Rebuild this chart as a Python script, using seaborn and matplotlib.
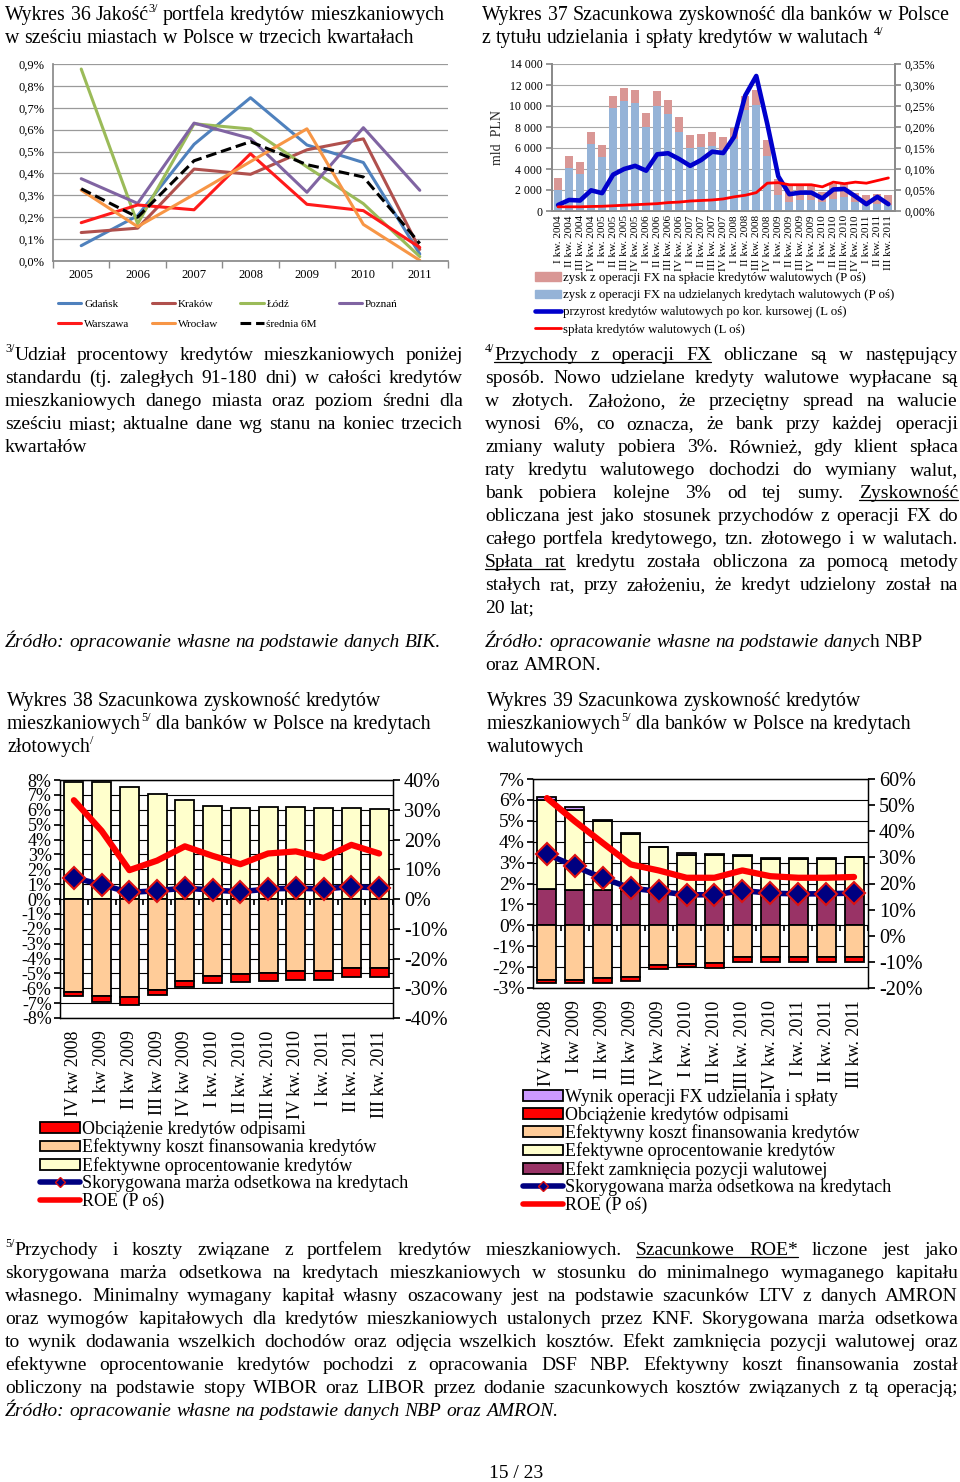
import matplotlib

matplotlib.use("Agg")
import matplotlib.pyplot as plt
import numpy as np
import seaborn as sns
from matplotlib.lines import Line2D
from matplotlib.patches import Patch
from matplotlib.ticker import FuncFormatter, MultipleLocator

W, H = 960, 1482
SERIF = ["Liberation Serif", "DejaVu Serif"]

# ---- Wykres 36: jakość portfela (udział %), trzecie kwartały ----
years = ["2005", "2006", "2007", "2008", "2009", "2010", "2011"]
gdansk = [0.070, 0.207, 0.533, 0.746, 0.530, 0.450, 0.032]
krakow = [0.130, 0.150, 0.420, 0.396, 0.508, 0.558, 0.053]
lodz = [0.877, 0.170, 0.627, 0.603, 0.430, 0.262, 0.020]
poznan = [0.376, 0.263, 0.630, 0.560, 0.314, 0.609, 0.323]
warszawa = [0.175, 0.256, 0.234, 0.490, 0.259, 0.230, 0.062]
wroclaw = [0.324, 0.157, 0.304, 0.454, 0.604, 0.167, 0.003]
srednia = [0.330, 0.200, 0.458, 0.545, 0.440, 0.384, 0.080]

# ---- Wykres 37: zysk FX (% , P oś) i przepływy (mln PLN, L oś) ----
roman = ["I", "II", "III", "IV"]
quarters37 = [f"{r} kw. {y}" for y in range(2004, 2012) for r in roman][:31]
fx_udzielanie = [0.050, 0.1025, 0.0875, 0.159, 0.1275, 0.245, 0.261, 0.2575, 0.200, 0.250,
                 0.230, 0.189, 0.149, 0.1525, 0.155, 0.145, 0.171, 0.240, 0.2525, 0.130,
                 0.039, 0.0225, 0.026, 0.026, 0.021, 0.029, 0.0325, 0.021, 0.014, 0.016, 0.015]
fx_splata = [0.029, 0.0275, 0.030, 0.030, 0.030, 0.029, 0.0325, 0.031, 0.0325, 0.035,
             0.035, 0.034, 0.0325, 0.031, 0.0325, 0.031, 0.0275, 0.035, 0.035, 0.040,
             0.0375, 0.041, 0.039, 0.039, 0.024, 0.036, 0.034, 0.0225, 0.024, 0.024, 0.0225]
przyrost = [570, 1050, 1000, 1970, 1700, 3460, 4000, 4300, 3840, 5400, 5500, 4950, 4300,
            4860, 5650, 5520, 7080, 11000, 12860, 8300, 3300, 1600, 1750, 1750, 1200, 2050,
            2100, 1400, 650, 1350, 650]
splata = [400, 400, 400, 430, 450, 500, 550, 600, 650, 700, 800, 850, 950, 1000, 1050, 1150,
          1350, 1500, 1750, 2650, 2700, 2500, 2500, 2500, 2300, 2750, 2600, 2750, 2650, 2900, 3150]

# ---- Wykresy 38/39: kwartały ----
quarters = ["IV kw 2008", "I kw 2009", "II kw 2009", "III kw 2009", "IV kw 2009",
            "I kw. 2010", "II kw. 2010", "III kw. 2010", "IV kw. 2010", "I kw. 2011",
            "II kw. 2011", "III kw. 2011"]

oproc38 = [7.89, 7.84, 7.53, 7.09, 6.64, 6.24, 6.11, 6.18, 6.18, 6.11, 6.11, 6.07]
koszt38 = [-6.22, -6.51, -6.62, -6.11, -5.49, -5.18, -5.04, -4.96, -4.87, -4.87, -4.67, -4.67]
odpisy38 = [-0.27, -0.42, -0.49, -0.36, -0.40, -0.49, -0.54, -0.57, -0.57, -0.57, -0.57, -0.57]
marza38 = [1.44, 0.96, 0.44, 0.56, 0.73, 0.60, 0.49, 0.67, 0.73, 0.67, 0.84, 0.73]
roe38 = [33.2, 22.9, 9.7, 12.9, 17.7, 14.5, 11.7, 15.3, 16.0, 13.8, 18.2, 15.3]

zamk39 = [1.75, 1.67, 1.67, 1.66, 1.62, 1.60, 1.60, 1.55, 1.55, 1.50, 1.50, 1.50]
oproc39 = [4.25, 3.86, 3.30, 2.72, 2.11, 1.78, 1.74, 1.75, 1.63, 1.67, 1.67, 1.75]
fx39 = [0.16, 0.11, 0.05, 0.05, 0.03, 0.08, 0.05, 0.08, 0.03, 0.03, 0.03, 0.03]
koszt39 = [-2.60, -2.60, -2.52, -2.45, -1.91, -1.83, -1.82, -1.50, -1.50, -1.50, -1.50, -1.50]
odpisy39 = [-0.15, -0.15, -0.23, -0.23, -0.19, -0.17, -0.22, -0.25, -0.25, -0.25, -0.25, -0.25]
marza39 = [3.41, 2.82, 2.26, 1.78, 1.62, 1.46, 1.46, 1.66, 1.54, 1.50, 1.51, 1.54]
roe39 = [52.7, 43.8, 35.5, 27.3, 25.0, 22.2, 22.2, 25.0, 22.8, 22.2, 22.2, 22.5]

RED, ORANGE, YELLOW = "#FF0000", "#FFCC99", "#FFFFCC"
PURPLE, LAVENDER, NAVY = "#993366", "#CC99FF", "#000080"

sns.set_theme(style="white")
plt.rcParams["font.family"] = SERIF
plt.rcParams["axes.unicode_minus"] = False
plt.rcParams["text.color"] = "black"
plt.rcParams["xtick.color"] = "black"
plt.rcParams["ytick.color"] = "black"

fig = plt.figure(figsize=(W / 100, H / 100), dpi=100)
fig.patch.set_facecolor("white")


def axes_px(x0, y0, x1, y1):
    return fig.add_axes([x0 / W, 1 - y1 / H, (x1 - x0) / W, (y1 - y0) / H])


def pct(dec):
    return FuncFormatter(lambda v, _: f"{v:.{dec}f}%".replace(".", ","))


# ================= Wykres 36 =================
ax = axes_px(53, 64, 448, 261)
x36 = np.arange(len(years))
series36 = [("Gdańsk", gdansk, "#4F81BD", "-"), ("Kraków", krakow, "#B0504D", "-"),
            ("Łódź", lodz, "#9BBB59", "-"), ("Poznań", poznan, "#8064A2", "-"),
            ("Warszawa", warszawa, "#FF1A1A", "-"), ("Wrocław", wroclaw, "#F79646", "-"),
            ("średnia 6M", srednia, "black", (0, (3.5, 1.6)))]
for name, vals, col, ls in series36:
    sns.lineplot(x=x36, y=vals, ax=ax, color=col, lw=2.2, linestyle=ls, legend=False)
ax.set_xlim(-0.5, 6.5)
ax.set_ylim(0, 0.9)
ax.yaxis.set_major_locator(MultipleLocator(0.1))
ax.yaxis.set_major_formatter(pct(1))
ax.set_xticks(x36, years)
ax.set_xticks(np.arange(-0.5, 7, 1), minor=True)
ax.yaxis.grid(True, color="#9A9A9A", lw=0.9)
for s in ("top", "right"):
    ax.spines[s].set_visible(False)
for s in ("left", "bottom"):
    ax.spines[s].set_color("#8A8A8A")
ax.tick_params(axis="x", which="major", length=0, labelsize=9, pad=6)
ax.tick_params(axis="x", which="minor", length=5, color="#8A8A8A", bottom=True)
ax.tick_params(axis="y", length=0, labelsize=9, pad=6)
ax.set_xlabel("")
ax.set_ylabel("")
h36 = {n: Line2D([], [], color=c, lw=2.2, linestyle=ls) for n, _, c, ls in series36}
order36 = ["Gdańsk", "Warszawa", "Kraków", "Wrocław", "Łódź", "średnia 6M", "Poznań"]
fig.legend([h36[n] for n in order36], order36, loc="upper left",
           bbox_to_anchor=(58 / W, 1 - 299 / H), ncol=4, frameon=False, fontsize=8,
           handlelength=2.1, handletextpad=0.25, columnspacing=2.0, labelspacing=0.95,
           borderpad=0, borderaxespad=0)

# ================= Wykres 37 =================
ax = axes_px(552, 64, 895, 211)
axr = ax.twinx()
x37 = np.arange(len(quarters37))
axr.bar(x37, fx_udzielanie, width=0.72, color="#95B3D7", lw=0)
axr.bar(x37, fx_splata, bottom=fx_udzielanie, width=0.72, color="#D99795", lw=0)
sns.lineplot(x=x37, y=przyrost, ax=ax, color="#0000CC", lw=3.3, legend=False)
sns.lineplot(x=x37, y=splata, ax=ax, color=RED, lw=2.0, legend=False)
ax.set_zorder(axr.get_zorder() + 1)
ax.patch.set_visible(False)
ax.set_xlim(-0.55, 30.6)
ax.set_ylim(0, 14000)
axr.set_ylim(0, 0.35)
ax.yaxis.set_major_locator(MultipleLocator(2000))
axr.yaxis.set_major_locator(MultipleLocator(0.05))
ax.yaxis.set_major_formatter(FuncFormatter(lambda v, _: f"{int(v):,}".replace(",", " ")))
axr.yaxis.set_major_formatter(pct(2))
axr.yaxis.grid(True, color="#A8A8A8", lw=0.8)
ax.set_xticks(x37, quarters37, rotation=90)
for a in (ax, axr):
    a.spines["top"].set_visible(False)
    for s in ("left", "right", "bottom"):
        a.spines[s].set_color("#8A8A8A")
ax.tick_params(axis="x", length=0, labelsize=8.1, pad=3)
ax.tick_params(axis="y", length=4, color="#8A8A8A", labelsize=8.5, pad=3, left=True)
axr.tick_params(axis="y", length=4, color="#8A8A8A", labelsize=8.5, pad=3, right=True)
ax.set_ylabel("mld  PLN", fontsize=10, labelpad=4)
axr.set_ylabel("")
ax.set_xlabel("")
h37 = [Patch(color="#D99795"), Patch(color="#95B3D7"),
       Line2D([], [], color="#0000CC", lw=3.3), Line2D([], [], color=RED, lw=2.0)]
l37 = ["zysk z operacji FX na spłacie kredytów walutowych (P oś)",
       "zysk z operacji FX na udzielanych kredytach walutowych (P oś)",
       "przyrost kredytów walutowych po kor. kursowej (L oś)",
       "spłata kredytów walutowych (L oś)"]
fig.legend(h37, l37, loc="upper left", bbox_to_anchor=(535 / W, 1 - 272 / H), frameon=False,
           fontsize=9.3, handlelength=2.0, handleheight=0.6, handletextpad=0.15,
           labelspacing=0.4, borderpad=0, borderaxespad=0)


# ================= Wykresy 38 i 39 (wspólny styl) =================
def style_profit(ax, axr, lo, hi, rlo, rhi, rstep, zero_frac, lsize):
    ax.set_xlim(-0.5, 11.5)
    ax.set_ylim(lo, hi)
    axr.set_ylim(rlo, rhi)
    ax.yaxis.set_major_locator(MultipleLocator(1))
    axr.yaxis.set_major_locator(MultipleLocator(rstep))
    ax.yaxis.set_major_formatter(pct(0))
    axr.yaxis.set_major_formatter(pct(0))
    ax.yaxis.grid(True, color="black", lw=0.8)
    ax.set_axisbelow(True)
    ax.set_xticks(np.arange(12), quarters, rotation=90)
    for a in (ax, axr):
        for s in a.spines.values():
            s.set_color("black")
            s.set_linewidth(0.9)
    ax.tick_params(axis="x", length=0, labelsize=13, pad=9)
    ax.tick_params(axis="y", length=4, color="black", labelsize=lsize, pad=2, left=True)
    axr.tick_params(axis="y", length=5, color="black", labelsize=14.5, pad=3, right=True)
    sec = ax.secondary_xaxis(zero_frac)
    sec.set_xticks(np.arange(-0.5, 12, 1))
    sec.tick_params(axis="x", length=4, direction="out", labelbottom=False, labeltop=False,
                    bottom=True, top=False, color="black")
    sec.spines["bottom"].set_visible(False)
    sec.spines["top"].set_visible(False)
    ax.set_xlabel("")
    ax.set_ylabel("")
    axr.set_ylabel("")


x12 = np.arange(12)
bar_kw = dict(width=0.68, edgecolor="black", linewidth=1.3)
marker_kw = dict(color=NAVY, lw=4, marker="D", markersize=11, markerfacecolor=NAVY,
                 markeredgecolor="#DD1111", markeredgewidth=1.5)

# Wykres 38
ax = axes_px(60, 780, 393, 1018)
axr = ax.twinx()
ax.bar(x12, oproc38, color=YELLOW, **bar_kw)
ax.bar(x12, koszt38, color=ORANGE, **bar_kw)
ax.bar(x12, odpisy38, bottom=koszt38, color=RED, **bar_kw)
sns.lineplot(x=x12, y=marza38, ax=ax, legend=False, **marker_kw)
sns.lineplot(x=x12, y=roe38, ax=axr, color=RED, lw=4.5, legend=False)
style_profit(ax, axr, -8, 8, -40, 40, 10, 0.5, 13)

# Wykres 39
ax = axes_px(533, 779, 868, 988)
axr = ax.twinx()
ax.bar(x12, zamk39, color=PURPLE, **bar_kw)
ax.bar(x12, oproc39, bottom=zamk39, color=YELLOW, **bar_kw)
ax.bar(x12, fx39, bottom=np.add(zamk39, oproc39), color=LAVENDER, **bar_kw)
ax.bar(x12, koszt39, color=ORANGE, **bar_kw)
ax.bar(x12, odpisy39, bottom=koszt39, color=RED, **bar_kw)
sns.lineplot(x=x12, y=marza39, ax=ax, legend=False, **marker_kw)
sns.lineplot(x=x12, y=roe39, ax=axr, color=RED, lw=4.5, legend=False)
style_profit(ax, axr, -3, 7, -20, 60, 10, 0.3, 14)


def patch(c):
    return Patch(facecolor=c, edgecolor="black", linewidth=1.3)


h_marza = Line2D([], [], color=NAVY, lw=4, marker="D", markersize=5, markerfacecolor=NAVY,
                 markeredgecolor="#DD1111")
h_roe = Line2D([], [], color=RED, lw=4)
leg_kw = dict(loc="upper left", frameon=False, fontsize=13, handlelength=2.2,
              handleheight=0.55, handletextpad=0.15, labelspacing=0.03, borderpad=0,
              borderaxespad=0)
fig.legend([patch(RED), patch(ORANGE), patch(YELLOW), h_marza, h_roe],
           ["Obciążenie kredytów odpisami", "Efektywny koszt finansowania kredytów",
            "Efektywne oprocentowanie kredytów", "Skorygowana marża odsetkowa na kredytach",
            "ROE (P oś)"], bbox_to_anchor=(40 / W, 1 - 1121 / H), **leg_kw)
fig.legend([patch(LAVENDER), patch(RED), patch(ORANGE), patch(YELLOW), patch(PURPLE),
            h_marza, h_roe],
           ["Wynik operacji FX udzielania i spłaty", "Obciążenie kredytów odpisami",
            "Efektywny koszt finansowania kredytów", "Efektywne oprocentowanie kredytów",
            "Efekt zamknięcia pozycji walutowej", "Skorygowana marża odsetkowa na kredytach",
            "ROE (P oś)"], bbox_to_anchor=(523 / W, 1 - 1089 / H), **leg_kw)

# ================= Tekst strony =================
renderer = fig.canvas.get_renderer()
PX = 100 / 72


def write(x0, base, line, x1=None, size=14, italic=False):
    words = []
    for w in line.split(" "):
        pieces = []
        for p in w.split("~"):
            flags = set()
            while p and p[0] in "^_#":
                flags.add(p[0])
                p = p[1:]
            sty = "italic" if italic and "#" not in flags else "normal"
            fs = size * 0.62 if "^" in flags else size
            t = fig.text(0, 0, p, fontsize=fs, family=SERIF, style=sty, va="baseline")
            pieces.append((t, t.get_window_extent(renderer).width, flags))
        words.append(pieces)
    total = sum(wd for pcs in words for _, wd, _ in pcs)
    gap = size * PX * 0.25
    if x1 is not None and len(words) > 1:
        gap = (x1 - x0 - total) / (len(words) - 1)
    x = x0
    ul = None
    for pcs in words:
        for t, wd, flags in pcs:
            dy = size * PX * 0.42 if "^" in flags else 0
            t.set_position((x / W, 1 - (base - dy) / H))
            if "_" in flags:
                ul = [x if ul is None else ul[0], x + wd]
            elif ul is not None:
                fig.add_artist(Line2D([ul[0] / W, ul[1] / W], [1 - (base + 2) / H] * 2,
                                      color="black", lw=0.9))
                ul = None
            x += wd
        x += gap
    if ul is not None:
        fig.add_artist(Line2D([ul[0] / W, ul[1] / W], [1 - (base + 2) / H] * 2,
                              color="black", lw=0.9))


TS = 14.3
write(5, 20, "Wykres 36 Jakość~^3/ portfela kredytów mieszkaniowych", size=TS)
write(5, 43, "w sześciu miastach w Polsce w trzecich kwartałach", size=TS)
write(482, 20, "Wykres 37 Szacunkowa zyskowność dla banków w Polsce", size=TS)
write(482, 43, "z tytułu udzielania i spłaty kredytów w walutach ^4/", size=TS)

left_notes = ["^3/~Udział procentowy kredytów mieszkaniowych poniżej",
              "standardu (tj. zaległych 91-180 dni) w całości kredytów",
              "mieszkaniowych danego miasta oraz poziom średni dla",
              "sześciu miast; aktualne dane wg stanu na koniec trzecich",
              "kwartałów"]
for i, ln in enumerate(left_notes):
    write(5, 360 + 23 * i, ln, x1=463 if i < len(left_notes) - 1 else None)
write(5, 647, "Źródło: opracowanie własne na podstawie danych BIK.", italic=True)

right_notes = ["^4/~_Przychody _z _operacji _FX obliczane są w następujący",
               "sposób. Nowo udzielane kredyty walutowe wypłacane są",
               "w złotych. Założono, że przeciętny spread na walucie",
               "wynosi 6%, co oznacza, że bank przy każdej operacji",
               "zmiany waluty pobiera 3%. Również, gdy klient spłaca",
               "raty kredytu walutowego dochodzi do wymiany walut,",
               "bank pobiera kolejne 3% od tej sumy. _Zyskowność",
               "obliczana jest jako stosunek przychodów z operacji FX do",
               "całego portfela kredytowego, tzn. złotowego i w walutach.",
               "_Spłata _rat kredytu została obliczona za pomocą metody",
               "stałych rat, przy założeniu, że kredyt udzielony został na",
               "20 lat;"]
for i, ln in enumerate(right_notes):
    write(485, 360 + 23 * i, ln, x1=958 if i < len(right_notes) - 1 else None)
write(485, 647, "Źródło: opracowanie własne na podstawie danyc~#h #NBP", italic=True)
write(485, 670, "oraz AMRON.")

write(7, 706, "Wykres 38 Szacunkowa zyskowność kredytów", size=TS)
write(7, 729, "mieszkaniowych~^5/ dla banków w Polsce na kredytach", size=TS)
write(7, 752, "złotowych~^/", size=TS)
write(487, 706, "Wykres 39 Szacunkowa zyskowność kredytów", size=TS)
write(487, 729, "mieszkaniowych~^5/ dla banków w Polsce na kredytach", size=TS)
write(487, 752, "walutowych", size=TS)

bottom_notes = [
    "^5/~Przychody i koszty związane z portfelem kredytów mieszkaniowych. _Szacunkowe _ROE* liczone jest jako",
    "skorygowana marża odsetkowa na kredytach mieszkaniowych w stosunku do minimalnego wymaganego kapitału",
    "własnego. Minimalny wymagany kapitał własny oszacowany jest na podstawie szacunków LTV z danych AMRON",
    "oraz wymogów kapitałowych dla kredytów mieszkaniowych ustalonych przez KNF. Skorygowana marża odsetkowa",
    "to wynik dodawania wszelkich dochodów oraz odjęcia wszelkich kosztów. Efekt zamknięcia pozycji walutowej oraz",
    "efektywne oprocentowanie kredytów pochodzi z opracowania DSF NBP. Efektywny koszt finansowania został",
    "obliczony na podstawie stopy WIBOR oraz LIBOR przez dodanie szacunkowych kosztów związanych z tą operacją;"]
for i, ln in enumerate(bottom_notes):
    write(5, 1255 + 23 * i, ln, x1=958)
write(5, 1416, "Źródło: opracowanie własne na podstawie danych NBP oraz AMRON.", italic=True)
fig.text(516 / W, 1 - 1478 / H, "15 / 23", fontsize=14, ha="center", va="baseline")

fig.savefig("out.png", dpi=100, facecolor="white")
